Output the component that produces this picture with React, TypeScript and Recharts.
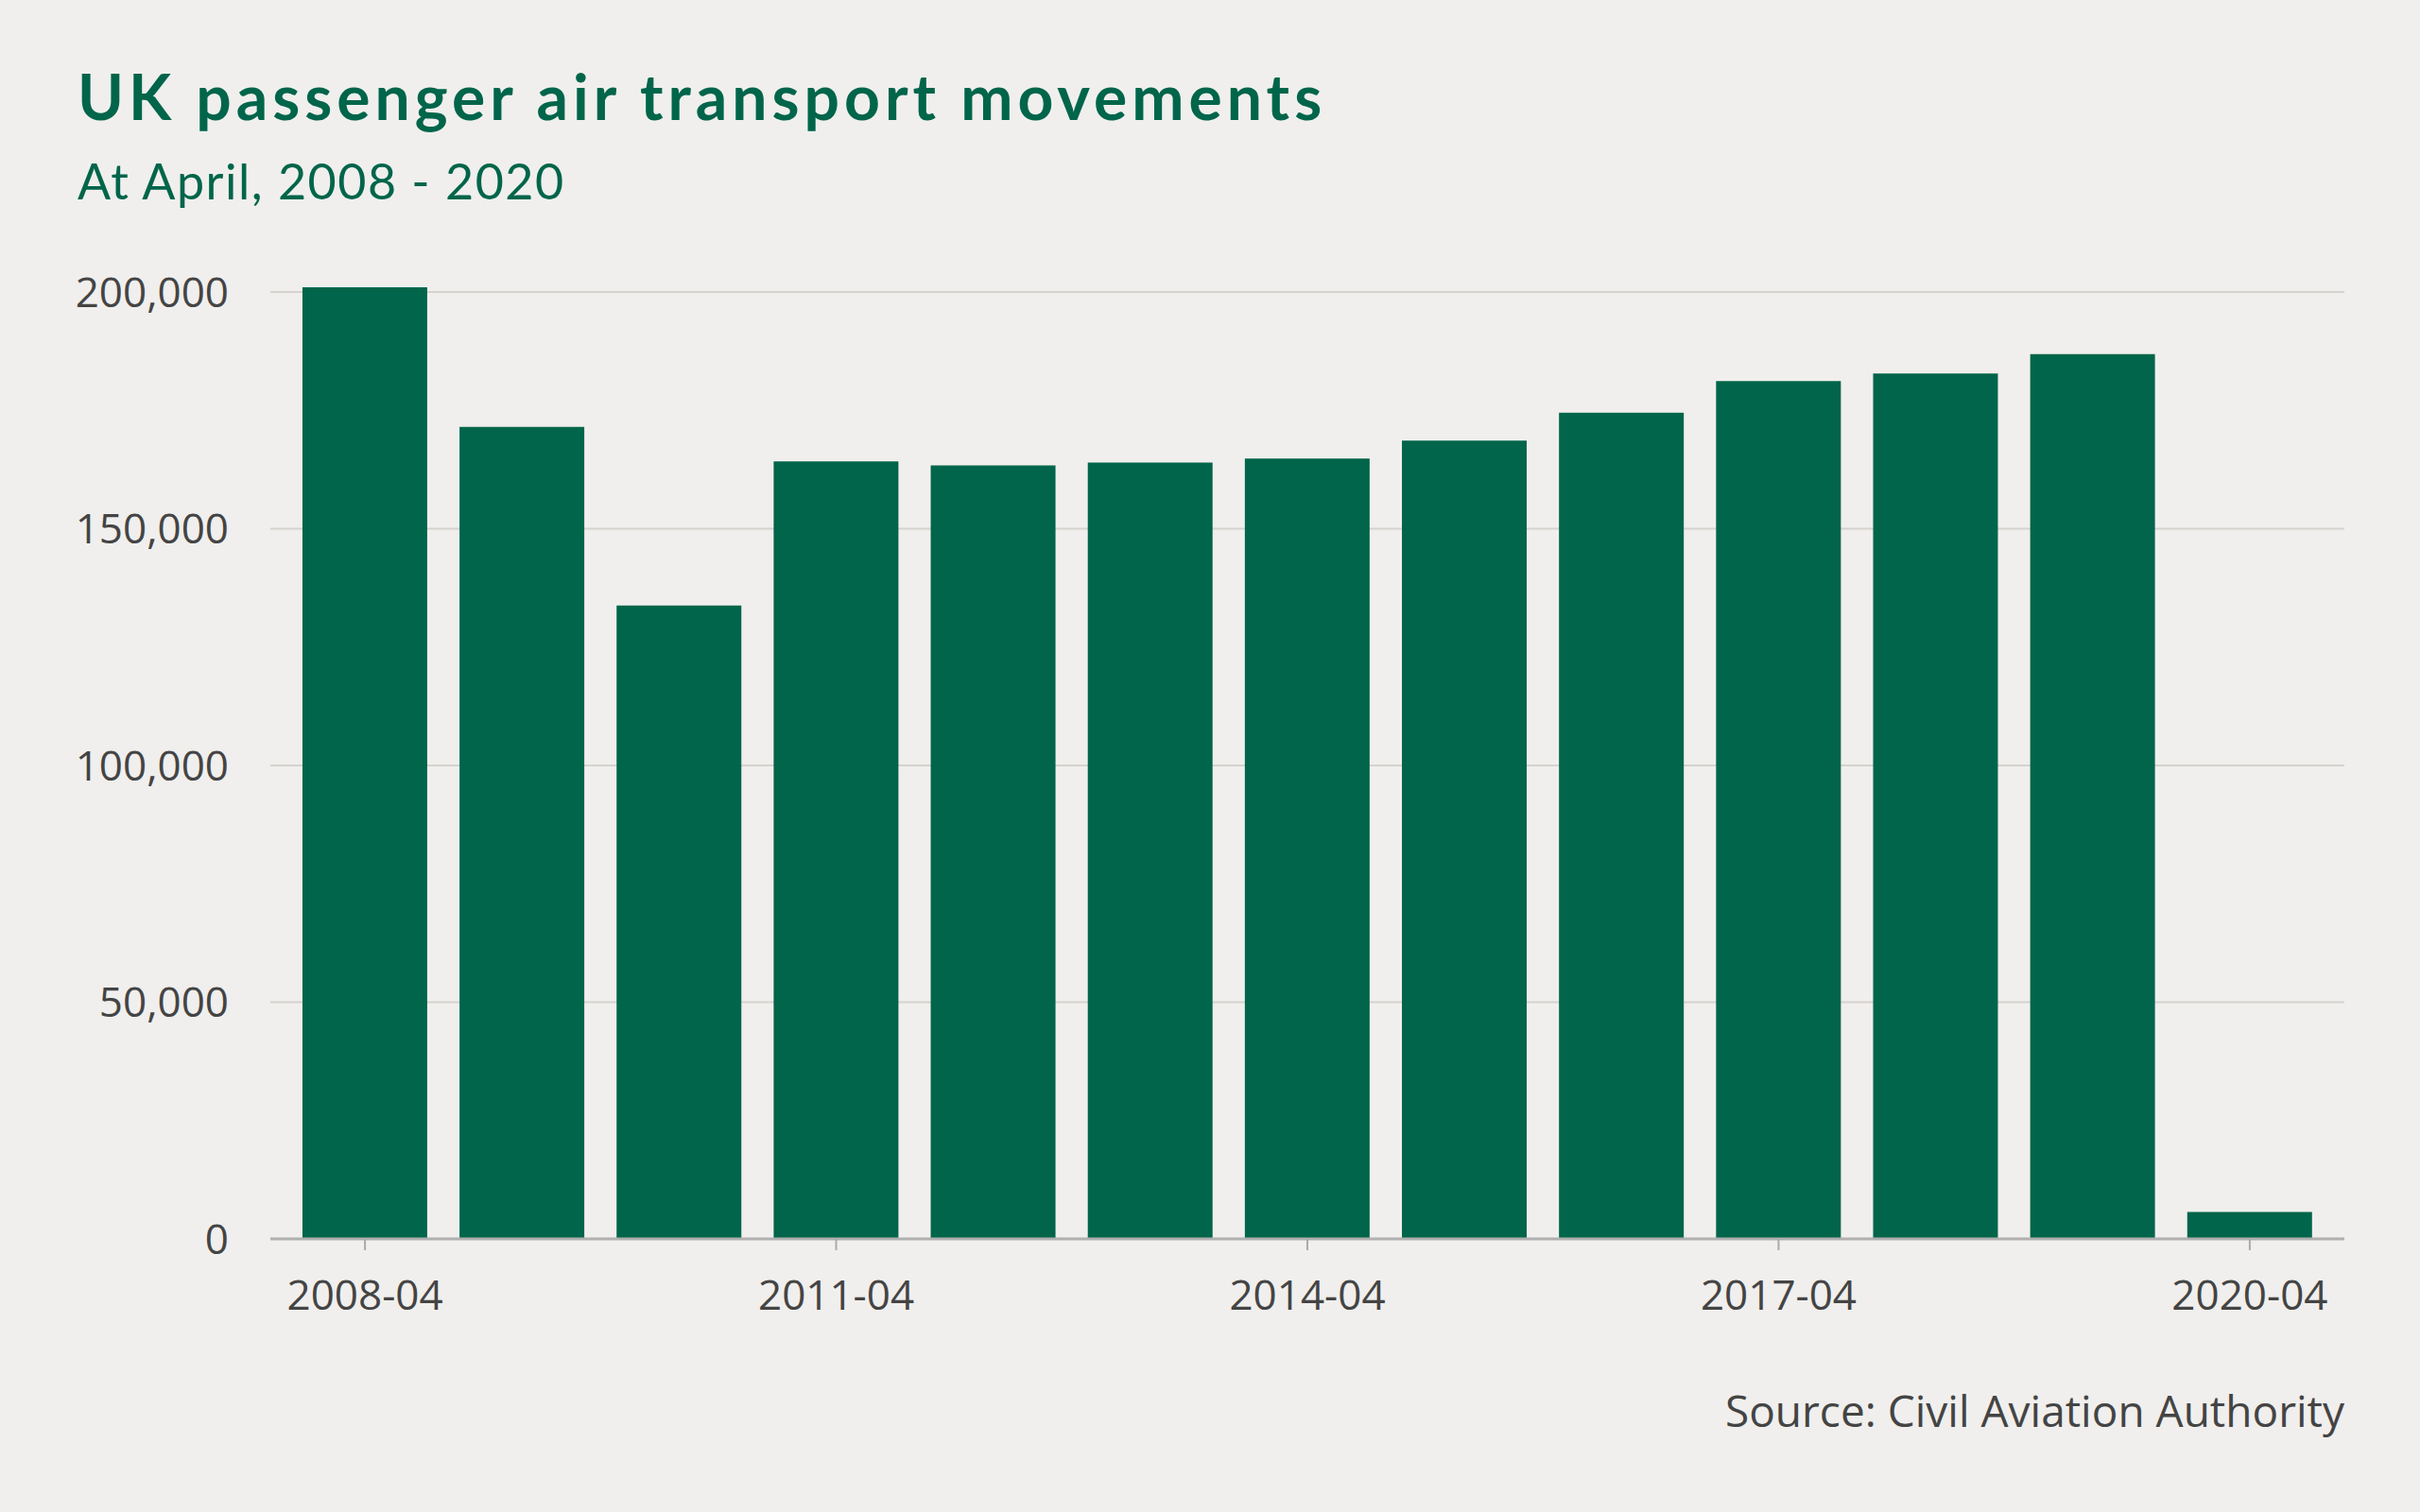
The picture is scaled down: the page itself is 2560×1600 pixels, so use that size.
import { BarChart, Bar, XAxis, YAxis, CartesianGrid } from 'recharts';

const years = ['2008-04', '2009-04', '2010-04', '2011-04', '2012-04', '2013-04', '2014-04', '2015-04', '2016-04', '2017-04', '2018-04', '2019-04', '2020-04'];
const movements = [201000, 171500, 133800, 164200, 163400, 164000, 164800, 168600, 174500, 181200, 182800, 186900, 5700];
const yTicks = [0, 50000, 100000, 150000, 200000];

const data = years.map((year, i) => ({ year, movements: movements[i] }));

const green = '#00654a';
const tickStyle = { fill: '#444444', fontSize: 44, fontFamily: "'Open Sans', sans-serif" };

export default function App() {
  return (
    <div style={{ position: 'absolute', left: 0, top: 0, width: 2560, height: 1600, background: '#f0efed', overflow: 'hidden' }}>
      <BarChart
        width={2560}
        height={1600}
        data={data}
        margin={{ top: 299, right: 80, bottom: 169, left: 46 }}
        barCategoryGap="10.2%"
      >
        <CartesianGrid vertical={false} horizontalValues={yTicks} stroke="#d6d2ce" strokeWidth={2} />
        <XAxis
          dataKey="year"
          interval={2}
          height={120}
          padding={{ left: 17, right: 17 }}
          tickSize={12}
          tickMargin={32}
          tickLine={{ stroke: '#aaaaaa', strokeWidth: 2 }}
          axisLine={{ stroke: '#b0b0b0', strokeWidth: 3 }}
          tick={tickStyle}
        />
        <YAxis
          width={240}
          domain={[0, 202000]}
          ticks={yTicks}
          axisLine={false}
          tickLine={false}
          tickSize={0}
          tickMargin={44}
          tick={tickStyle}
          tickFormatter={(v: number) => v.toLocaleString('en-GB')}
        />
        <Bar dataKey="movements" fill={green} isAnimationActive={false} />
      </BarChart>
      <svg width={2560} height={1600} style={{ position: 'absolute', left: 0, top: 0, pointerEvents: 'none' }}>
        <text x={82} y={127} fill={green} fontSize={66} fontWeight={700} letterSpacing={5} fontFamily="Lato, sans-serif">
          UK passenger air transport movements
        </text>
        <text x={82} y={211} fill={green} fontSize={52} fontWeight={400} letterSpacing={1.5} fontFamily="Lato, sans-serif">
          At April, 2008 - 2020
        </text>
        <text x={2480} y={1510} textAnchor="end" fill="#444444" fontSize={46} fontFamily="'Open Sans', sans-serif">
          Source: Civil Aviation Authority
        </text>
      </svg>
    </div>
  );
}
